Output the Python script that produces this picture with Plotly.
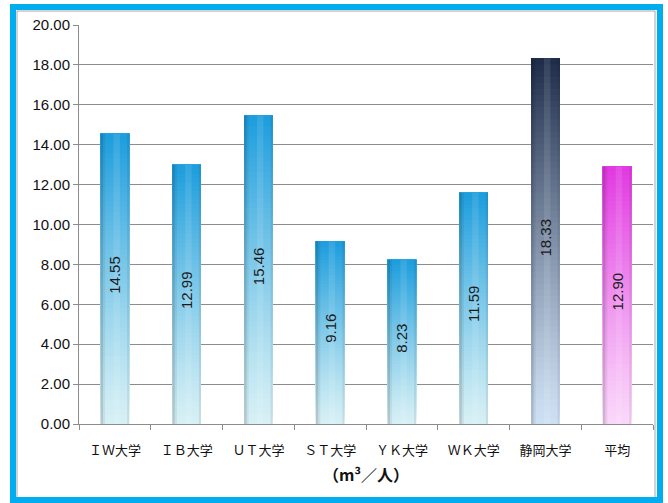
import plotly.graph_objects as go

# Per-person volume by university (m3 / person)
categories = ["ＩＷ大学", "ＩＢ大学", "ＵＴ大学", "ＳＴ大学", "ＹＫ大学", "ＷＫ大学", "静岡大学", "平均"]
values = [14.55, 12.99, 15.46, 9.16, 8.23, 11.59, 18.33, 12.90]
y_ticks = [0, 2, 4, 6, 8, 10, 12, 14, 16, 18, 20]
axis_title = "<b>（m³／人）</b>"

# Colour ramps (top colour, bottom colour) for each bar group
BLUE = ((26, 156, 220), (214, 240, 245))
NAVY = ((28, 42, 72), (205, 224, 243))
PINK = ((225, 55, 225), (250, 214, 250))
ramps = [BLUE] * 6 + [NAVY, PINK]

BAR_W = 0.4
N_STEPS = 60


def mix(top, bottom, t):
    # t = 0 at bottom, 1 at top
    return "rgb(%d,%d,%d)" % tuple(round(b + (a - b) * t ** 1.15) for a, b in zip(top, bottom))


fig = go.Figure()

# Vertical gradient: each step starts higher and runs to the top of the bar,
# later steps painted over earlier ones so no seams appear.
for k in range(N_STEPS):
    f = k / N_STEPS
    fig.add_trace(go.Bar(
        x=categories,
        base=[v * f for v in values],
        y=[v * (1 - f) for v in values],
        width=BAR_W,
        marker=dict(color=[mix(r[0], r[1], f) for r in ramps], line=dict(width=0)),
        hoverinfo="skip",
        showlegend=False,
    ))

# Cylinder shading: darker left rim, soft right rim, light centre
for off, w, col in [(-0.2, 0.035, "rgba(0,0,0,0.16)"),
                    (-0.165, 0.03, "rgba(0,0,0,0.06)"),
                    (-0.02, 0.09, "rgba(255,255,255,0.10)"),
                    (0.17, 0.03, "rgba(0,0,0,0.07)")]:
    fig.add_trace(go.Bar(
        x=categories, y=values, offset=off, width=w,
        marker=dict(color=col, line=dict(width=0)),
        hoverinfo="skip", showlegend=False,
    ))

# Value labels inside the bars
for c, v in zip(categories, values):
    fig.add_annotation(
        x=c, y=v / 2, text=f"{v:.2f}", textangle=-90, showarrow=False,
        yshift=4, font=dict(family="Liberation Sans, Arial", size=15, color="#1a1a1a"),
    )

W, H = 668, 503
ML, MR, MT, MB = 79, 15, 25, 79
pw, ph = W - ML - MR, H - MT - MB


def px(x):
    return (x - ML) / pw


def py(y):
    return (H - MB - y) / ph


# Outer blue frame and inner grey border
fig.add_shape(type="rect", xref="paper", yref="paper",
              x0=px(13), x1=px(660), y0=py(500), y1=py(7),
              line=dict(color="#00AEEF", width=6), layer="above")
fig.add_shape(type="rect", xref="paper", yref="paper",
              x0=px(17), x1=px(655), y0=py(498), y1=py(11),
              line=dict(color="#A8A8A8", width=1), layer="below")

fig.update_layout(
    width=W, height=H,
    margin=dict(l=ML, r=MR, t=MT, b=MB),
    barmode="overlay",
    bargap=0.6,
    paper_bgcolor="white",
    plot_bgcolor="white",
    font=dict(family="Liberation Sans, Arial", size=14, color="#111"),
    xaxis=dict(
        type="category",
        showline=True, linecolor="#8c8c8c", linewidth=1,
        ticks="outside", tickson="boundaries", ticklen=5, tickcolor="#8c8c8c",
        ticklabelstandoff=14,
        tickfont=dict(family="Noto Sans CJK JP", size=13, color="#111"),
        title=dict(text=axis_title, standoff=12,
                   font=dict(family="Noto Sans CJK JP", size=16, color="#111")),
        showgrid=False,
    ),
    yaxis=dict(
        range=[0, 20], tickvals=y_ticks,
        ticktext=[f"{t:.2f}" for t in y_ticks],
        showline=True, linecolor="#8c8c8c", linewidth=1,
        ticks="outside", ticklen=5, tickcolor="#8c8c8c",
        showgrid=True, gridcolor="#8c8c8c", gridwidth=1,
        zeroline=False,
        tickfont=dict(family="Liberation Sans, Arial", size=15, color="#111"),
    ),
)

fig.write_html("out.html")
